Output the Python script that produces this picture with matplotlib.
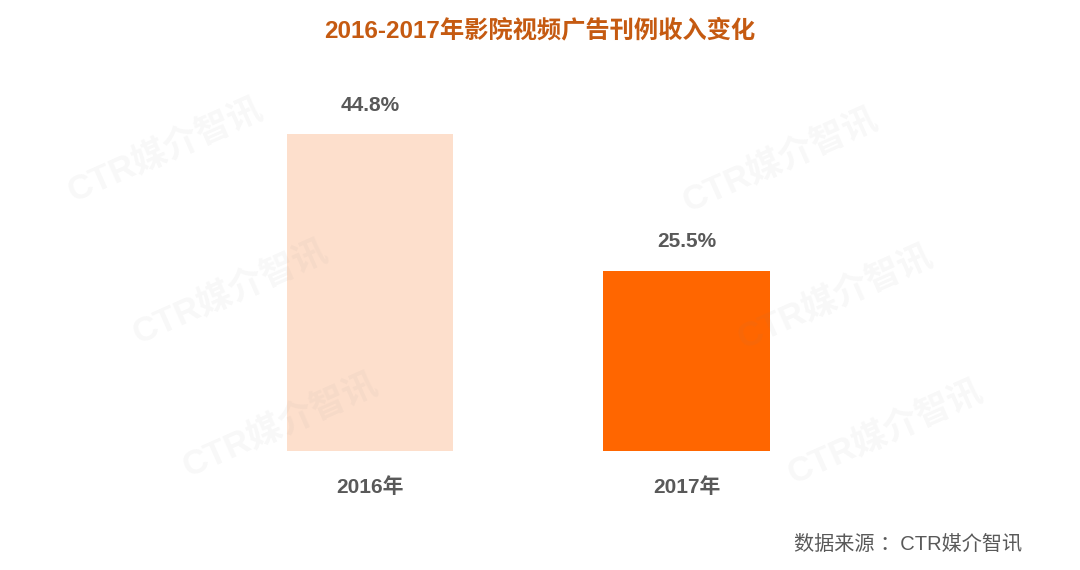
import matplotlib
matplotlib.use('Agg')
import matplotlib.pyplot as plt

plt.rcParams['font.family'] = ['Liberation Sans', 'Noto Sans CJK SC', 'DejaVu Sans']

years = ["2016年", "2017年"]
values = [44.8, 25.5]
bar_colors = ["#FDDFCC", "#FF6600"]

TITLE = "2016-2017年影院视频广告刊例收入变化"
SOURCE = "数据来源 ：CTR媒介智讯"
WATERMARK = "CTR媒介智讯"

fig = plt.figure(figsize=(10.8, 5.7), dpi=100, facecolor="white")
ax = fig.add_axes([0, 1 - 451 / 570, 1, 451 / 570])
ax.set_xlim(-370 / 316.5, (1080 - 370) / 316.5)
ax.set_ylim(0, 451 / 7.076)
ax.axis("off")

x = range(len(values))
ax.bar(x, values, width=0.525, color=bar_colors, zorder=2)

for i, v in enumerate(values):
    ax.annotate(f"{v}%", (i, v), xytext=(0, 14), textcoords="offset points",
                ha="center", va="bottom", fontsize=15, fontweight="bold", color="#595959")
    ax.annotate(years[i], (i, 0), xytext=(0, -19), textcoords="offset points",
                ha="center", va="top", fontsize=15, fontweight="bold", color="#595959")

# faint watermarks
for cx, cy in [(165, 150), (780, 160), (230, 292), (835, 297), (280, 425), (885, 432)]:
    fig.text(cx / 1080, 1 - cy / 570, WATERMARK, rotation=24, ha="center", va="center",
             fontsize=25, fontweight="bold", color="#888888", alpha=0.06, zorder=5)

fig.text(0.5, 1 - 31 / 570, TITLE, ha="center", va="center", fontsize=17.5,
         fontweight="bold", color="#C55A11")
fig.text(1022 / 1080, 1 - 545 / 570, SOURCE, ha="right", va="center", fontsize=14.5,
         color="#595959")

fig.savefig("out.png", dpi=100, facecolor="white")
